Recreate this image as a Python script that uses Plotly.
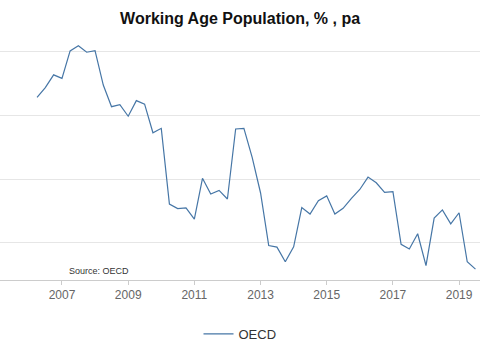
import plotly.graph_objects as go

# Quarterly periods (quarter start dates), 2006 Q2 .. 2019 Q3
quarters = [f"{y}-{m:02d}-01" for y in range(2006, 2020) for m in (1, 4, 7, 10)]
quarters = [q for q in quarters if "2006-04-01" <= q <= "2019-07-01"]

oecd = [0.657, 0.688, 0.728, 0.717, 0.803, 0.819, 0.799, 0.804,
        0.696, 0.628, 0.634, 0.598, 0.647, 0.636, 0.546, 0.560,
        0.322, 0.308, 0.310, 0.275, 0.403, 0.354, 0.365, 0.338,
        0.558, 0.560, 0.468, 0.357, 0.192, 0.187, 0.141, 0.188,
        0.311, 0.291, 0.333, 0.348, 0.291, 0.309, 0.340, 0.368,
        0.407, 0.389, 0.359, 0.361, 0.196, 0.181, 0.229, 0.129,
        0.278, 0.304, 0.260, 0.295, 0.141, 0.118]

title_text = "Working Age Population, % , pa"
source_text = "Source: OECD"
series_name = "OECD"

fig = go.Figure()
fig.add_trace(go.Scatter(
    x=quarters, y=oecd, mode="lines", name=series_name,
    line=dict(color="#4676a6", width=1.2),
))

fig.update_layout(
    width=485, height=360,
    margin=dict(l=0, r=5, t=39, b=80),
    paper_bgcolor="white", plot_bgcolor="white",
    font=dict(family="Liberation Sans, Arial, sans-serif"),
    title=dict(text=f"<b>{title_text}</b>", x=0.495, xanchor="center",
               y=1 - 18 / 360, yanchor="middle", yref="container",
               font=dict(size=16, color="#111111")),
    showlegend=True,
    legend=dict(orientation="h", x=0.5, xanchor="center", y=-0.224, yanchor="middle",
                font=dict(size=13, color="#333333"), bgcolor="rgba(0,0,0,0)"),
    xaxis=dict(
        type="date",
        range=["2005-02-16", "2019-08-20"],
        tick0="2007-01-01", dtick="M24", tickformat="%Y",
        showgrid=False, showline=True, linecolor="#cccccc", linewidth=1,
        ticks="outside", ticklen=4, tickcolor="#cccccc",
        tickfont=dict(size=12, color="#666666"),
        zeroline=False, automargin=False,
    ),
    yaxis=dict(
        range=[0.0838, 0.8405],
        tick0=0.2, dtick=0.2,
        showticklabels=False, showgrid=True, gridcolor="#e6e6e6", gridwidth=1,
        zeroline=False, showline=False, ticks="",
    ),
)

fig.add_annotation(
    text=source_text, xref="paper", yref="paper",
    x=67 / 480, y=0.0373, xanchor="left", yanchor="middle",
    showarrow=False, font=dict(size=9, color="#333333"),
)

fig.write_html("out.html", config={"displayModeBar": False},
               post_script="document.body.style.margin='0';")
